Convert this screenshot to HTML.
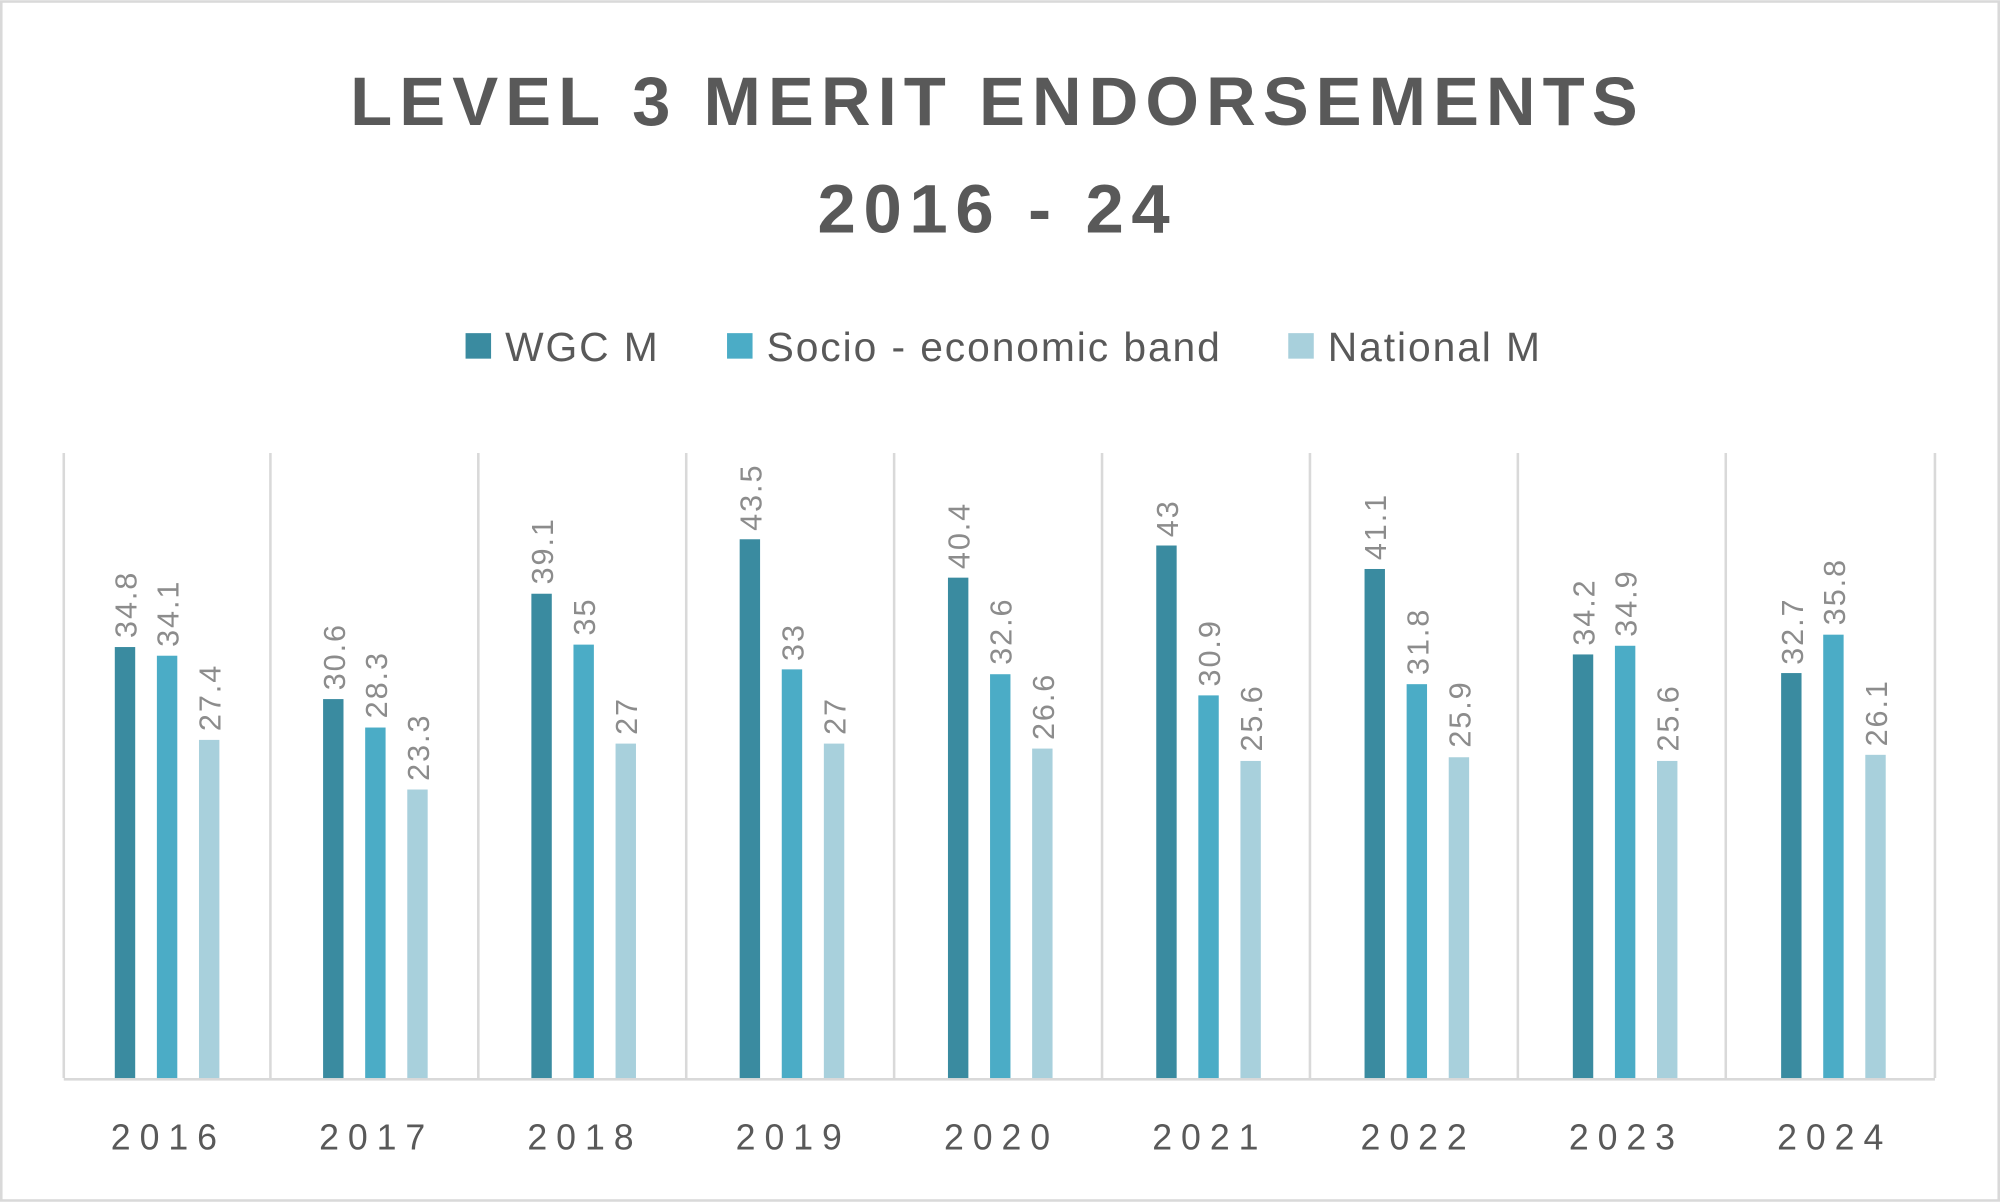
<!DOCTYPE html>
<html><head><meta charset="utf-8"><style>html,body{margin:0;padding:0;background:#fff}svg{display:block}</style></head>
<body>
<svg width="2000" height="1202" viewBox="0 0 1568 942" xmlns="http://www.w3.org/2000/svg" font-family="'Liberation Sans',sans-serif">
<rect x="1" y="1" width="1566" height="940" fill="#fff" stroke="#d9d9d9" stroke-width="2"/>
<text x="782" y="98" text-anchor="middle" font-size="54" font-weight="bold" fill="#595959" letter-spacing="5.5">LEVEL 3 MERIT ENDORSEMENTS</text>
<text x="782" y="182" text-anchor="middle" font-size="54" font-weight="bold" fill="#595959" letter-spacing="6">2016 - 24</text>
<g font-size="32" fill="#595959" letter-spacing="1.5">
<rect x="365" y="261" width="20" height="20" fill="#3A8BA0"/><text x="396" y="283">WGC M</text>
<rect x="570" y="261" width="20" height="20" fill="#4BACC6"/><text x="601" y="283">Socio - economic band</text>
<rect x="1010" y="261" width="20" height="20" fill="#A8D0DC"/><text x="1041" y="283">National M</text>
</g>
<g stroke="#d9d9d9" stroke-width="2">
<line x1="50" y1="355" x2="50" y2="845"/><line x1="212" y1="355" x2="212" y2="845"/><line x1="375" y1="355" x2="375" y2="845"/><line x1="538" y1="355" x2="538" y2="845"/><line x1="701" y1="355" x2="701" y2="845"/><line x1="864" y1="355" x2="864" y2="845"/><line x1="1027" y1="355" x2="1027" y2="845"/><line x1="1190" y1="355" x2="1190" y2="845"/><line x1="1353" y1="355" x2="1353" y2="845"/><line x1="1517" y1="355" x2="1517" y2="845"/>
<line x1="50" y1="846" x2="1517" y2="846"/>
</g>
<g>
<rect x="90" y="507.1" width="16" height="337.9" fill="#3A8BA0"/><rect x="123" y="513.9" width="16" height="331.1" fill="#4BACC6"/><rect x="156" y="579.9" width="16" height="265.1" fill="#A8D0DC"/>
<rect x="253.3" y="547.9" width="16" height="297.1" fill="#3A8BA0"/><rect x="286.3" y="570.2" width="16" height="274.8" fill="#4BACC6"/><rect x="319.3" y="618.8" width="16" height="226.2" fill="#A8D0DC"/>
<rect x="416.6" y="465.3" width="16" height="379.7" fill="#3A8BA0"/><rect x="449.6" y="505.2" width="16" height="339.8" fill="#4BACC6"/><rect x="482.6" y="582.8" width="16" height="262.2" fill="#A8D0DC"/>
<rect x="579.9" y="422.6" width="16" height="422.4" fill="#3A8BA0"/><rect x="612.9" y="524.6" width="16" height="320.4" fill="#4BACC6"/><rect x="645.9" y="582.8" width="16" height="262.2" fill="#A8D0DC"/>
<rect x="743.2" y="452.7" width="16" height="392.3" fill="#3A8BA0"/><rect x="776.2" y="528.4" width="16" height="316.6" fill="#4BACC6"/><rect x="809.2" y="586.7" width="16" height="258.3" fill="#A8D0DC"/>
<rect x="906.5" y="427.5" width="16" height="417.5" fill="#3A8BA0"/><rect x="939.5" y="545.0" width="16" height="300" fill="#4BACC6"/><rect x="972.5" y="596.4" width="16" height="248.6" fill="#A8D0DC"/>
<rect x="1069.8" y="445.9" width="16" height="399.1" fill="#3A8BA0"/><rect x="1102.8" y="536.2" width="16" height="308.8" fill="#4BACC6"/><rect x="1135.8" y="593.5" width="16" height="251.5" fill="#A8D0DC"/>
<rect x="1233.1" y="512.9" width="16" height="332.1" fill="#3A8BA0"/><rect x="1266.1" y="506.1" width="16" height="338.9" fill="#4BACC6"/><rect x="1299.1" y="596.4" width="16" height="248.6" fill="#A8D0DC"/>
<rect x="1396.4" y="527.5" width="16" height="317.5" fill="#3A8BA0"/><rect x="1429.4" y="497.4" width="16" height="347.6" fill="#4BACC6"/><rect x="1462.4" y="591.6" width="16" height="253.4" fill="#A8D0DC"/>
</g>
<g font-size="24" fill="#8c8c8c" letter-spacing="1.5">
<text transform="translate(107,500) rotate(-90)">34.8</text><text transform="translate(140,507) rotate(-90)">34.1</text><text transform="translate(173,573) rotate(-90)">27.4</text>
<text transform="translate(270.3,541) rotate(-90)">30.6</text><text transform="translate(303.3,563) rotate(-90)">28.3</text><text transform="translate(336.3,612) rotate(-90)">23.3</text>
<text transform="translate(433.6,458) rotate(-90)">39.1</text><text transform="translate(466.6,498) rotate(-90)">35</text><text transform="translate(499.6,576) rotate(-90)">27</text>
<text transform="translate(596.9,416) rotate(-90)">43.5</text><text transform="translate(629.9,518) rotate(-90)">33</text><text transform="translate(662.9,576) rotate(-90)">27</text>
<text transform="translate(760.2,446) rotate(-90)">40.4</text><text transform="translate(793.2,521) rotate(-90)">32.6</text><text transform="translate(826.2,580) rotate(-90)">26.6</text>
<text transform="translate(923.5,421) rotate(-90)">43</text><text transform="translate(956.5,538) rotate(-90)">30.9</text><text transform="translate(989.5,589) rotate(-90)">25.6</text>
<text transform="translate(1086.8,439) rotate(-90)">41.1</text><text transform="translate(1119.8,529) rotate(-90)">31.8</text><text transform="translate(1152.8,586) rotate(-90)">25.9</text>
<text transform="translate(1250.1,506) rotate(-90)">34.2</text><text transform="translate(1283.1,499) rotate(-90)">34.9</text><text transform="translate(1316.1,589) rotate(-90)">25.6</text>
<text transform="translate(1413.4,521) rotate(-90)">32.7</text><text transform="translate(1446.4,490) rotate(-90)">35.8</text><text transform="translate(1479.4,585) rotate(-90)">26.1</text>
</g>
<g font-size="28" fill="#595959" text-anchor="middle" letter-spacing="7">
<text x="132" y="901">2016</text><text x="295.3" y="901">2017</text><text x="458.6" y="901">2018</text><text x="621.9" y="901">2019</text><text x="785.2" y="901">2020</text><text x="948.5" y="901">2021</text><text x="1111.8" y="901">2022</text><text x="1275.1" y="901">2023</text><text x="1438.4" y="901">2024</text>
</g>
</svg>
</body></html>
